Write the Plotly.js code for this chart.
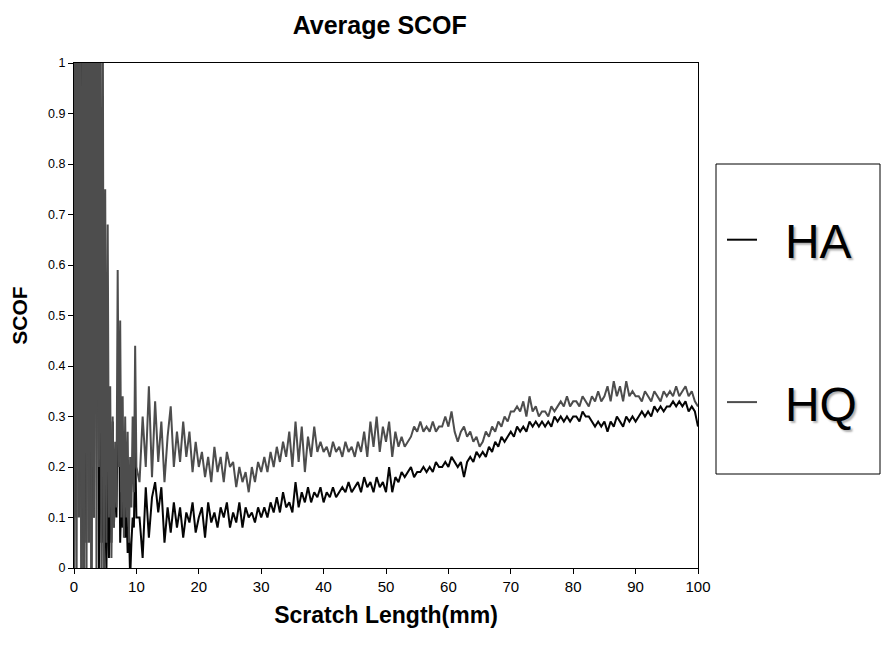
<!DOCTYPE html>
<html>
<head>
<meta charset="utf-8">
<script src="https://cdn.plot.ly/plotly-3.0.1.min.js"></script>
<style>html,body{margin:0;padding:0;background:#fff;}#chart{width:882px;height:646px;}</style>
</head>
<body>
<div id="chart"></div>
<script>
// Scratch length (mm) sample positions
const xEarly = [0,0.2,0.4,0.6,0.8,1,1.2,1.4,1.6,1.8,2,2.2,2.4,2.6,2.8,3,3.2,3.4,3.6,3.8,4,4.2,4.4,4.6,4.8,5,5.2,5.4,5.6,5.8,6,6.2,6.4,6.6,6.8,7,7.2,7.4,7.6,7.8,8,8.2,8.4,8.6,8.8,9,9.2,9.4,9.6,9.8,10];
const xLate = [10.5,11,11.5,12,12.5,13,13.5,14,14.5,15,15.5,16,16.5,17,17.5,18,18.5,19,19.5,20,
20.5,21,21.5,22,22.5,23,23.5,24,24.5,25,25.5,26,26.5,27,27.5,28,28.5,29,29.5,30,
30.5,31,31.5,32,32.5,33,33.5,34,34.5,35,35.5,36,36.5,37,37.5,38,38.5,39,39.5,40,
40.5,41,41.5,42,42.5,43,43.5,44,44.5,45,45.5,46,46.5,47,47.5,48,48.5,49,49.5,50,
50.5,51,51.5,52,52.5,53,53.5,54,54.5,55,55.5,56,56.5,57,57.5,58,58.5,59,59.5,60,
60.5,61,61.5,62,62.5,63,63.5,64,64.5,65,65.5,66,66.5,67,67.5,68,68.5,69,69.5,70,
70.5,71,71.5,72,72.5,73,73.5,74,74.5,75,75.5,76,76.5,77,77.5,78,78.5,79,79.5,80,
80.5,81,81.5,82,82.5,83,83.5,84,84.5,85,85.5,86,86.5,87,87.5,88,88.5,89,89.5,90,
90.5,91,91.5,92,92.5,93,93.5,94,94.5,95,95.5,96,96.5,97,97.5,98,98.5,99,99.5,100];

// HA series (SCOF)
const haEarly = [0,0.9,0.1,1.3,0.22,1.2,0,1.3,-0.1,1.1,0.05,1.2,0.3,0.9,0,0.8,0.1,0.67,0.4,0.6,0,0.45,0.05,0.31,-0.05,0.3,0,0.25,0.02,0.22,0.05,0.29,0.08,0.2,0.1,0.3,0.37,0.05,0.15,0.08,0.2,0.06,0.12,0.03,0.08,-0.02,0.05,0.1,0.08,0.25,0.1];
const haLate = [0.1,0.02,0.16,0.06,0.14,0.17,0.11,0.16,0.05,0.12,
0.07,0.13,0.08,0.12,0.06,0.11,0.09,0.13,0.07,0.1,
0.12,0.06,0.13,0.09,0.11,0.08,0.12,0.1,0.13,0.08,
0.11,0.09,0.13,0.08,0.12,0.1,0.11,0.09,0.12,0.1,
0.12,0.1,0.13,0.11,0.14,0.11,0.15,0.12,0.13,0.11,
0.17,0.12,0.15,0.13,0.16,0.13,0.15,0.14,0.16,0.13,
0.15,0.14,0.16,0.14,0.15,0.16,0.15,0.17,0.15,0.16,
0.17,0.15,0.18,0.16,0.17,0.15,0.18,0.16,0.17,0.15,
0.2,0.15,0.18,0.17,0.19,0.18,0.19,0.2,0.18,0.19,
0.19,0.2,0.19,0.2,0.19,0.21,0.2,0.2,0.21,0.2,
0.22,0.21,0.2,0.21,0.18,0.21,0.22,0.21,0.23,0.22,
0.23,0.22,0.24,0.23,0.25,0.24,0.26,0.25,0.26,0.27,
0.26,0.28,0.27,0.28,0.27,0.29,0.28,0.29,0.28,0.29,
0.28,0.29,0.28,0.3,0.29,0.3,0.29,0.3,0.29,0.3,
0.3,0.29,0.31,0.3,0.3,0.29,0.28,0.29,0.28,0.29,
0.27,0.29,0.28,0.3,0.29,0.28,0.3,0.29,0.3,0.29,
0.3,0.31,0.3,0.31,0.3,0.32,0.31,0.32,0.31,0.32,
0.32,0.33,0.32,0.33,0.32,0.33,0.31,0.32,0.31,0.28];

// HQ series (SCOF)
const hqEarly = [0,1.4,-0.2,1.5,0.1,1.3,-0.3,1.2,0,1.4,-0.1,1.3,0.05,1.5,-0.2,1.2,0.1,1.4,0,1.3,0.2,1.1,-0.1,1.2,0,0.75,0.05,0.68,0.1,0.36,0.02,0.3,0.08,0.25,0.12,0.59,0.2,0.49,0.1,0.34,0.06,0.3,0.1,0.27,0.05,0.22,0.12,0.3,0.15,0.44,0.2];
const hqLate = [0.17,0.3,0.2,0.36,0.18,0.33,0.21,0.29,0.17,0.26,
0.32,0.2,0.27,0.21,0.29,0.22,0.27,0.19,0.25,0.2,
0.23,0.18,0.22,0.17,0.24,0.19,0.22,0.17,0.23,0.2,
0.21,0.16,0.2,0.17,0.19,0.15,0.2,0.17,0.21,0.19,
0.22,0.19,0.23,0.2,0.24,0.21,0.25,0.22,0.27,0.2,
0.29,0.21,0.28,0.19,0.26,0.22,0.28,0.23,0.25,0.23,
0.24,0.22,0.25,0.23,0.24,0.22,0.25,0.23,0.24,0.22,
0.25,0.23,0.27,0.22,0.29,0.24,0.3,0.23,0.28,0.25,
0.29,0.22,0.27,0.24,0.26,0.24,0.25,0.26,0.28,0.27,
0.29,0.27,0.28,0.27,0.29,0.27,0.28,0.28,0.3,0.28,
0.31,0.27,0.25,0.27,0.28,0.26,0.27,0.25,0.26,0.24,
0.25,0.27,0.26,0.28,0.27,0.29,0.28,0.3,0.29,0.31,
0.31,0.32,0.31,0.33,0.3,0.34,0.31,0.32,0.3,0.31,
0.31,0.3,0.32,0.31,0.32,0.33,0.32,0.34,0.32,0.33,
0.33,0.32,0.34,0.33,0.32,0.34,0.33,0.35,0.33,0.34,
0.36,0.33,0.37,0.34,0.36,0.33,0.37,0.34,0.35,0.34,
0.34,0.33,0.35,0.34,0.33,0.35,0.34,0.33,0.35,0.34,
0.35,0.34,0.36,0.34,0.35,0.36,0.34,0.35,0.33,0.32];

const seriesNames = ['HA', 'HQ'];
const xTickVals = [0,10,20,30,40,50,60,70,80,90,100];
const yTickVals = [0,0.1,0.2,0.3,0.4,0.5,0.6,0.7,0.8,0.9,1];

const xAll = xEarly.concat(xLate);
const pad = '\u00a0\u2009';
const traces = [
  {x: xAll, y: haEarly.concat(haLate), name: pad + seriesNames[0], type: 'scatter', mode: 'lines',
   line: {color: '#050505', width: 2}, legendgroup: 'a', legendrank: 1},
  {x: xAll, y: hqEarly.concat(hqLate), name: pad + seriesNames[1], type: 'scatter', mode: 'lines',
   line: {color: '#4d4d4d', width: 2}, legendgroup: 'b', legendrank: 2}
];

const L = 74, R = 184, T = 63, B = 78, W = 882, H = 646;
const pw = W - L - R, ph = H - T - B;
const px = v => (v - L) / pw;
const py = v => (H - B - v) / ph;

const layout = {
  width: W, height: H,
  margin: {l: L, r: R, t: T, b: B},
  paper_bgcolor: '#fff', plot_bgcolor: '#fff',
  showlegend: true,
  title: {text: '<b>Average SCOF</b>', font: {family: 'Liberation Sans, Arial, sans-serif', size: 25, color: '#000'},
          xref: 'paper', x: 0.49, xanchor: 'center', yref: 'container', y: 1 - 25/646, yanchor: 'middle'},
  xaxis: {range: [0, 100], tickvals: xTickVals, ticks: 'outside', ticklen: 5, tickcolor: '#000',
          showline: true, linecolor: '#000', linewidth: 1, mirror: true, showgrid: false, zeroline: false,
          tickfont: {family: 'Liberation Sans Narrow, Arial Narrow, Liberation Sans, sans-serif', size: 15, color: '#000'},
          title: {text: '<b>Scratch Length(mm)</b>', standoff: 12,
                  font: {family: 'Liberation Sans, Arial, sans-serif', size: 23, color: '#000'}}},
  yaxis: {range: [0, 1], tickvals: yTickVals, ticks: 'outside', ticklen: 5, tickcolor: '#000',
          showline: true, linecolor: '#000', linewidth: 1, mirror: true, showgrid: false, zeroline: false,
          tickfont: {family: 'Liberation Sans, Arial, sans-serif', size: 12.5, color: '#000'},
          title: {text: '<b>SCOF</b>', standoff: 14,
                  font: {family: 'Liberation Sans, Arial, sans-serif', size: 21, color: '#000'}}},
  legend: {x: px(722), xanchor: 'left', y: py(202), yanchor: 'top',
           traceorder: 'grouped', tracegroupgap: 97, bgcolor: 'rgba(0,0,0,0)', borderwidth: 0,
           font: {family: 'Liberation Sans, Arial, sans-serif', size: 48, color: '#000', shadow: '2px 2px 2px #b0b0b0'}},
  shapes: [{type: 'rect', xref: 'paper', yref: 'paper', x0: px(716), x1: px(880), y0: py(474), y1: py(164),
            line: {color: '#000', width: 1}, fillcolor: 'rgba(0,0,0,0)'}]
};

Plotly.newPlot('chart', traces, layout, {displayModeBar: false, staticPlot: true});
</script>
</body>
</html>
